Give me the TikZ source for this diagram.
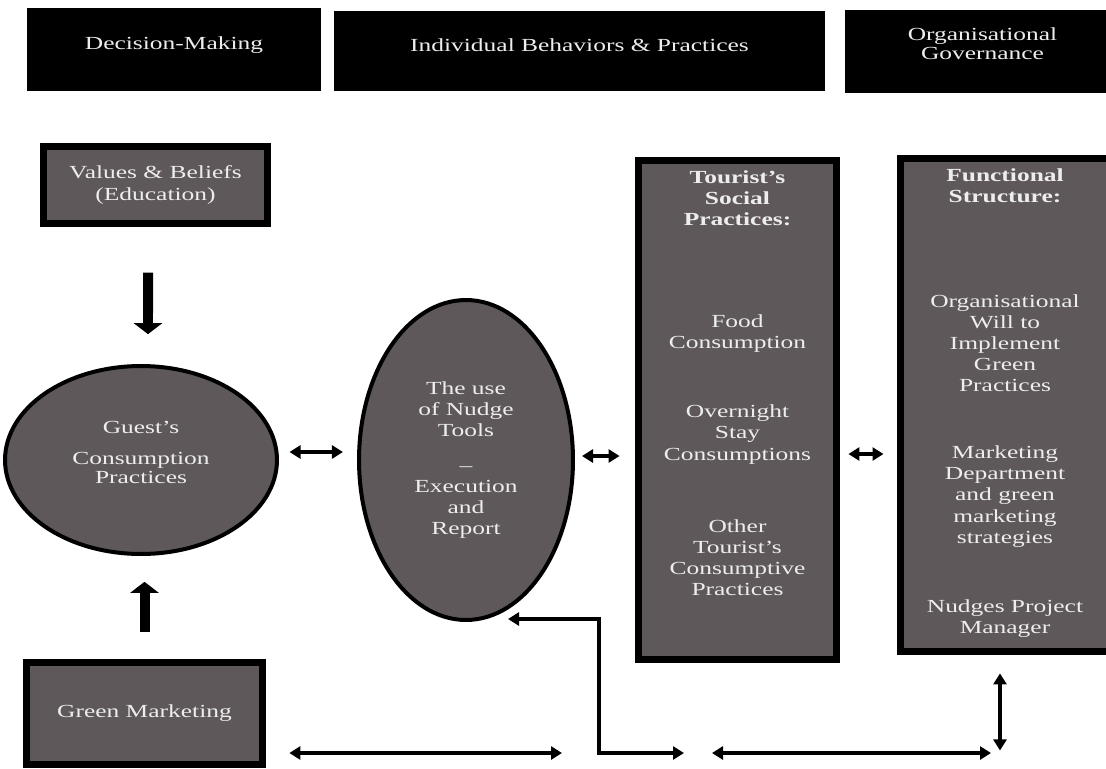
\documentclass[tikz,border=0pt]{standalone}
\usepackage{fontspec}
\setmainfont{Liberation Serif}[FakeStretch=1.38]
\usetikzlibrary{shapes.geometric}
\usetikzlibrary{arrows.meta}
\definecolor{boxgray}{HTML}{5F585A}
\definecolor{paletxt}{HTML}{EDEDED}
\newcommand{\panelfont}{\fontsize{10.5}{12}\selectfont}

\begin{document}
\begin{tikzpicture}[x=0.02cm,y=-0.02cm,
    headbox/.style={fill=black,text=paletxt,align=center,inner sep=0pt,
        font=\fontsize{10.5}{11}\selectfont},
    greybox/.style={draw=black,line width=0.14cm,fill=boxgray,text=paletxt,
        align=center,inner sep=0pt,font=\panelfont},
    greyoval/.style={ellipse,draw=black,line width=0.08cm,fill=boxgray,
        text=paletxt,align=center,inner sep=0pt,font=\panelfont},
    paneltext/.style={text=paletxt,align=center,inner sep=0pt,font=\panelfont},
    fatarrow/.style={line width=0.2cm,-{Triangle[width=0.56cm,length=0.22cm]}},
    link/.style={line width=0.08cm,
        {Triangle[width=0.26cm,length=0.22cm]}-{Triangle[width=0.26cm,length=0.22cm]}}]
            \useasboundingbox (0,0) rectangle (1106,768);
            % column headers
            \node[headbox,text depth=7pt,minimum width=5.88cm,minimum height=1.66cm] (dec) at (174,49.5) {Decision-Making};
            \node[headbox,text depth=7pt,minimum width=9.82cm,minimum height=1.6cm] (ind) at (579.5,51) {Individual Behaviors \& Practices};
            \node[headbox,text depth=9pt,minimum width=5.5cm,minimum height=1.66cm] (org) at (982.5,51.5) {Organisational\\Governance};
            % boxes and ovals
            \node[greybox,minimum width=4.48cm,minimum height=1.54cm] (values) at (155.5,185) {Values \& Beliefs\\[1pt](Education)};
            \node[greyoval,text depth=9pt,minimum width=5.44cm,minimum height=3.76cm] (guest) at (141,460) {Guest's\\[6pt]Consumption\\[-1.5pt]Practices};
            \node[greyoval,minimum width=4.28cm,minimum height=6.4cm] (nudge) at (466,460) {The use\\of Nudge\\Tools\\[8pt]--\\Execution\\and\\Report};
            \node[greybox,minimum width=3.96cm,minimum height=9.98cm] (tourist) at (737.5,410) {};
            \node[greybox,minimum width=4.18cm,minimum height=9.86cm] (func) at (1005,405) {};
            \node[greybox,minimum width=4.72cm,minimum height=2.04cm] (green) at (144.5,713.5) {Green Marketing};
            % texts of the two tall panels
            \node[paneltext,font=\panelfont\bfseries] (tsTitle) at (737.5,198) {Tourist's\\Social\\Practices:};
            \node[paneltext] (tsFood) at (737.5,334) {Food\\Consumption};
            \node[paneltext] (tsStay) at (737.5,434.5) {Overnight\\Stay\\Consumptions};
            \node[paneltext] (tsOther) at (737.5,557.5) {Other\\Tourist's\\Consumptive\\Practices};
            \node[paneltext,font=\panelfont\bfseries] (fsTitle) at (1005,186) {Functional\\Structure:};
            \node[paneltext] (fsWill) at (1005,343) {Organisational\\Will to\\Implement\\Green\\Practices};
            \node[paneltext] (fsMkt) at (1005,496.5) {Marketing\\Department\\and green\\marketing\\strategies};
            \node[paneltext] (fsPm) at (1005,619) {Nudges Project\\Manager};
            % arrows
            \draw[fatarrow,shorten <=26pt,shorten >=17pt] ([xshift=-0.15cm]values.south) -- ([xshift=0.14cm]guest.north);
            \draw[fatarrow,shorten <=15.6pt,shorten >=14.7pt] (green.north) -- (green.north |- guest.south);
            \draw[link,shorten <=6pt,shorten >=8pt] ([yshift=0.16cm]guest.east) -- ([yshift=0.16cm]nudge.west);
            \draw[link,shorten <=4pt,shorten >=8.8pt] ([yshift=0.08cm]nudge.east) -- ([yshift=0.08cm]nudge.east -| tourist.west);
            \draw[link,shorten <=4.8pt,shorten >=7.7pt] ([yshift=0.12cm]nudge.east -| tourist.east) -- ([yshift=0.12cm]nudge.east -| func.west);
            \coordinate (gmEnd) at (562,753);
            \coordinate (retL) at (508,619);
            \coordinate (retC) at (599,753);
            \coordinate (retR) at (684,753);
            \coordinate (orgL) at (712,753);
            \coordinate (orgR) at (991,753);
            \draw[link,shorten <=13.3pt] (green.east |- gmEnd) -- (gmEnd);
            \draw[link] (retL) -| (retC) -- (retR);
            \draw[link] (orgL) -- (orgR);
            \draw[link,shorten <=10.5pt] ([xshift=-0.1cm]func.south) -- ++(0,95.5);
        \end{tikzpicture}
\end{document}
